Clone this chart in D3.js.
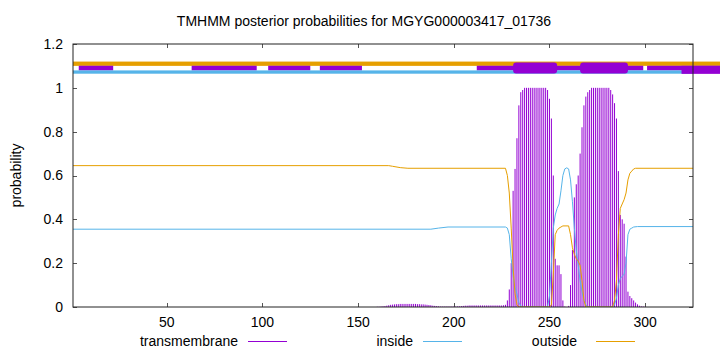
<!DOCTYPE html>
<html>
<head>
<meta charset="UTF-8">
<script src="https://d3js.org/d3.v7.min.js"></script>
<style>
  body { margin: 0; background: #fff; }
  text { font-family: "Liberation Sans", Arial, sans-serif; fill: #000; }
</style>
</head>
<body>
<svg id="chart"></svg>
<script>
const chartTitle = "TMHMM posterior probabilities for MGYG000003417_01736";
const seqLength = 325;
const xTicks = [50, 100, 150, 200, 250, 300];
const yTicks = [0, 0.2, 0.4, 0.6, 0.8, 1, 1.2];
const yTickLabels = ["0", "0.2", "0.4", "0.6", "0.8", "1", "1.2"];

// transmembrane probability per residue, starting at residue tmStart (0 elsewhere)
const tmStart = 160;
const tmProb = [
  0.001, 0.001, 0.002, 0.003, 0.004, 0.006, 0.008, 0.010, 0.011, 0.012,
  0.013, 0.013, 0.014, 0.014, 0.014, 0.014, 0.014, 0.014, 0.014, 0.014,
  0.014, 0.013, 0.013, 0.012, 0.012, 0.011, 0.010, 0.009, 0.008, 0.006,
  0.005, 0.004, 0.003, 0.002, 0.002, 0.002, 0.002, 0.002, 0.002, 0.002,
  0.002, 0.002, 0.003, 0.003, 0.004, 0.005, 0.006, 0.006, 0.007, 0.007,
  0.007, 0.007, 0.007, 0.007, 0.007, 0.007, 0.007, 0.007, 0.007, 0.007,
  0.007, 0.007, 0.007, 0.007, 0.007, 0.007, 0.008, 0.010, 0.03, 0.08,
  0.20, 0.53, 0.63, 0.77, 0.92, 0.98, 0.99, 1, 1, 1,
  1, 1, 1, 1, 1, 1, 1, 1, 1, 0.99,
  0.95, 0.86, 0.60, 0.22, 0.19, 0.19, 0.15, 0.03, 0.002, 0,
  0.005, 0.10, 0.26, 0.50, 0.56, 0.60, 0.70, 0.82, 0.92, 0.96,
  0.98, 0.99, 1, 1, 1, 1, 1, 1, 1, 1,
  1, 1, 0.99, 0.97, 0.93, 0.86, 0.62, 0.42, 0.40, 0.38,
  0.23, 0.07, 0.05, 0.04, 0.03, 0.02, 0.012, 0.006, 0.003, 0.002,
  0.001
];

// [residue, probability]
const insideProb = [
  [1, 0.355], [188, 0.355], [192, 0.36], [197, 0.365], [227, 0.365], [228, 0.36],
  [229, 0.33], [230, 0.22], [231, 0.14], [232, 0.09], [233, 0.06], [234, 0.02],
  [235, 0.005], [236, 0], [249, 0], [250, 0.05], [251, 0.2], [252, 0.36],
  [253, 0.42], [254, 0.45], [255, 0.47], [256, 0.53], [257, 0.6], [258, 0.63],
  [259, 0.635], [260, 0.63], [261, 0.58], [262, 0.48], [263, 0.36], [264, 0.26],
  [265, 0.19], [266, 0.12], [267, 0.07], [268, 0.03], [269, 0.01], [270, 0],
  [283, 0], [284, 0.01], [285, 0.04], [286, 0.1], [287, 0.13], [288, 0.14],
  [289, 0.15], [290, 0.2], [291, 0.33], [292, 0.355], [293, 0.36], [294, 0.365],
  [296, 0.367], [325, 0.367]
];

const outsideProb = [
  [1, 0.645], [166, 0.645], [168, 0.642], [172, 0.636], [176, 0.633], [227, 0.633],
  [228, 0.6], [229, 0.52], [230, 0.36], [231, 0.18], [232, 0.06], [233, 0.01],
  [234, 0], [250, 0], [251, 0.01], [252, 0.15], [253, 0.33], [254, 0.35],
  [255, 0.36], [256, 0.365], [257, 0.37], [260, 0.37], [261, 0.33], [262, 0.27],
  [263, 0.24], [264, 0.22], [265, 0.21], [266, 0.19], [267, 0.12], [268, 0.03],
  [269, 0], [283, 0], [284, 0.03], [285, 0.12], [286, 0.33], [287, 0.45],
  [288, 0.47], [289, 0.49], [290, 0.52], [291, 0.58], [292, 0.61], [293, 0.62],
  [294, 0.63], [295, 0.633], [325, 0.633]
];

// topology bars above the plot: [from, to] residues
const outsideBar = [[1, 340]];
const insideBar = [[1, 325]];
const tmBarThin = [[4, 22], [63, 97], [103, 125], [130, 152], [212, 299], [301, 340]];
const tmBarThick = [[231, 254], [266, 291]];
const tmBarEnd = [[319, 340]];
const barLevel = { outside: 1.11, tm: 1.09, tmEnd: 1.082, inside: 1.072 };

const legendNames = ["transmembrane", "inside", "outside"];
const colors = { tm: "#9400D3", inside: "#56B4E9", outside: "#E69F00" };

const width = 720, height = 352;
const margin = { top: 44, right: 27, bottom: 45, left: 73 };

const svg = d3.select("#chart").attr("width", width).attr("height", height);

const x = d3.scaleLinear().domain([1, seqLength]).range([margin.left, width - margin.right]);
const y = d3.scaleLinear().domain([0, 1.2]).range([height - margin.bottom, margin.top]);

const plotL = margin.left, plotR = width - margin.right;
const plotT = margin.top, plotB = height - margin.bottom;

svg.append("clipPath").attr("id", "clip")
  .append("rect")
  .attr("x", plotL).attr("y", plotT)
  .attr("width", plotR - plotL).attr("height", plotB - plotT);

// title
svg.append("text")
  .attr("x", 364).attr("y", 26)
  .attr("text-anchor", "middle")
  .attr("font-size", 14)
  .text(chartTitle);

// y label
svg.append("text")
  .attr("transform", `translate(21,${(plotT + plotB) / 2}) rotate(-90)`)
  .attr("text-anchor", "middle")
  .attr("font-size", 14)
  .text("probability");

// ticks (inward, mirrored)
const tickLen = 4;
const ticks = svg.append("g").attr("stroke", "#555").attr("stroke-width", 1);
yTicks.forEach(v => {
  const yy = Math.round(y(v)) + 0.5;
  ticks.append("line").attr("x1", plotL).attr("x2", plotL + tickLen).attr("y1", yy).attr("y2", yy);
  ticks.append("line").attr("x1", plotR).attr("x2", plotR - tickLen).attr("y1", yy).attr("y2", yy);
});
xTicks.forEach(v => {
  const xx = Math.round(x(v)) + 0.5;
  ticks.append("line").attr("x1", xx).attr("x2", xx).attr("y1", plotB).attr("y2", plotB - tickLen);
  ticks.append("line").attr("x1", xx).attr("x2", xx).attr("y1", plotT).attr("y2", plotT + tickLen);
});

svg.append("g").selectAll("text")
  .data(yTicks)
  .join("text")
  .attr("x", 63)
  .attr("y", d => y(d))
  .attr("dy", "0.35em")
  .attr("text-anchor", "end")
  .attr("font-size", 14)
  .text((d, i) => yTickLabels[i]);

svg.append("g").selectAll("text")
  .data(xTicks)
  .join("text")
  .attr("x", d => x(d))
  .attr("y", 327)
  .attr("text-anchor", "middle")
  .attr("font-size", 14)
  .text(d => d);

// transmembrane impulses
const plot = svg.append("g").attr("clip-path", "url(#clip)");
plot.append("g").selectAll("line")
  .data(tmProb.map((p, i) => [tmStart + i, p]).filter(d => d[1] > 0))
  .join("line")
  .attr("x1", d => x(d[0])).attr("x2", d => x(d[0]))
  .attr("y1", y(0)).attr("y2", d => y(d[1]))
  .attr("stroke", colors.tm)
  .attr("stroke-width", 1);

const line = d3.line().x(d => x(d[0])).y(d => y(d[1]));
plot.append("path").datum(insideProb)
  .attr("d", line).attr("fill", "none")
  .attr("stroke", colors.inside).attr("stroke-width", 1);
plot.append("path").datum(outsideProb)
  .attr("d", line).attr("fill", "none")
  .attr("stroke", colors.outside).attr("stroke-width", 1);

// topology bars
function bars(segs, level, thick, color, round) {
  svg.append("g").selectAll("rect")
    .data(segs)
    .join("rect")
    .attr("x", d => x(d[0]))
    .attr("width", d => x(d[1]) - x(d[0]))
    .attr("y", y(level) - thick / 2)
    .attr("height", thick)
    .attr("rx", round || 0)
    .attr("fill", color);
}
bars(outsideBar, barLevel.outside, 4.3, colors.outside);
bars(tmBarThin, barLevel.tm, 4.7, colors.tm);
bars(insideBar, barLevel.inside, 3.3, colors.inside);
bars(tmBarThick, barLevel.tm, 11, colors.tm, 3);
bars(tmBarEnd, barLevel.tmEnd, 8, colors.tm);

// border
svg.append("rect")
  .attr("x", plotL).attr("y", plotT)
  .attr("width", plotR - plotL).attr("height", plotB - plotT)
  .attr("fill", "none").attr("stroke", "#222").attr("stroke-width", 1);

// legend
const legendTextEnd = [238, 413, 577];
const legendLineStart = [248, 423, 596];
const legendColors = [colors.tm, colors.inside, colors.outside];
const legend = svg.append("g");
legendNames.forEach((name, i) => {
  legend.append("text")
    .attr("x", legendTextEnd[i]).attr("y", 346)
    .attr("text-anchor", "end")
    .attr("font-size", 14)
    .text(name);
  legend.append("line")
    .attr("x1", legendLineStart[i]).attr("x2", legendLineStart[i] + 39)
    .attr("y1", 341.5).attr("y2", 341.5)
    .attr("stroke", legendColors[i]).attr("stroke-width", 1);
});
</script>
</body>
</html>
